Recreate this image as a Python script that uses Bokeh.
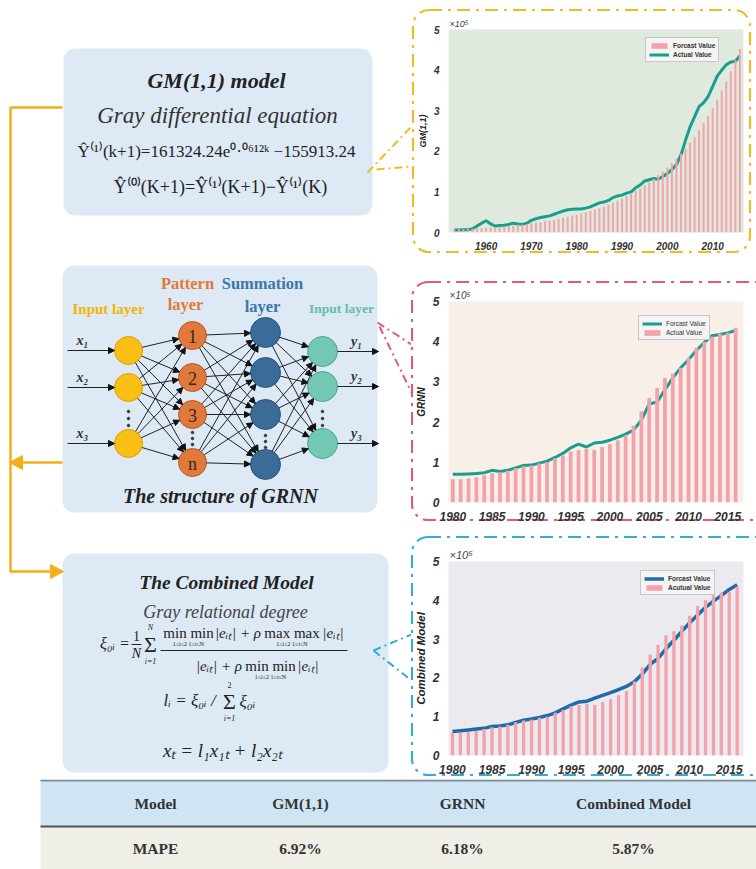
import numpy as np
from urllib.parse import quote
from bokeh.plotting import figure
from bokeh.layouts import column, row
from bokeh.models import (Range1d, Spacer, Legend, LegendItem, Arrow, NormalHead,
                          FixedTicker, ColumnDataSource)
from bokeh.core.properties import value
from bokeh.embed import file_html
from bokeh.resources import INLINE

# ---------------- data (values in units of 1e5) ----------------
years_gm = list(range(1953, 2017))
gm_forecast = [0.07, 0.08, 0.08, 0.09, 0.10, 0.10, 0.11, 0.12, 0.13, 0.13,
               0.14, 0.15, 0.16, 0.18, 0.19, 0.20, 0.21, 0.23, 0.24, 0.26,
               0.28, 0.29, 0.31, 0.34, 0.36, 0.38, 0.41, 0.44, 0.47, 0.50,
               0.53, 0.57, 0.60, 0.64, 0.69, 0.73, 0.78, 0.84, 0.89, 0.95,
               1.02, 1.08, 1.16, 1.23, 1.32, 1.41, 1.50, 1.60, 1.71, 1.82,
               1.94, 2.07, 2.21, 2.36, 2.52, 2.69, 2.87, 3.06, 3.27, 3.49,
               3.72, 3.97, 4.24, 4.52]
actual_all = [0.06, 0.06, 0.07, 0.07, 0.09, 0.16, 0.23, 0.29, 0.21, 0.16,
              0.17, 0.18, 0.20, 0.23, 0.21, 0.20, 0.23, 0.30, 0.34, 0.37,
              0.39, 0.41, 0.45, 0.49, 0.53, 0.56, 0.57, 0.58, 0.58, 0.60,
              0.63, 0.68, 0.73, 0.75, 0.79, 0.86, 0.90, 0.92, 0.97, 1.00,
              1.10, 1.17, 1.27, 1.30, 1.33, 1.31, 1.38, 1.45, 1.55, 1.67,
              1.91, 2.27, 2.60, 2.85, 3.10, 3.20, 3.35, 3.60, 3.85, 4.00,
              4.13, 4.20, 4.22, 4.35]
years_80 = list(range(1980, 2017))
actual_80 = actual_all[years_gm.index(1980):]
grnn_forecast = [0.70, 0.70, 0.71, 0.72, 0.74, 0.80, 0.77, 0.80, 0.86, 0.92,
                 0.93, 0.98, 1.03, 1.12, 1.22, 1.36, 1.45, 1.38, 1.48, 1.50,
                 1.55, 1.62, 1.70, 1.80, 2.05, 2.45, 2.50, 2.80, 3.10, 3.35,
                 3.55, 3.78, 3.98, 4.15, 4.18, 4.22, 4.28]
combined_forecast = [0.62, 0.64, 0.66, 0.68, 0.70, 0.75, 0.76, 0.79, 0.85, 0.91,
                     0.94, 0.98, 1.03, 1.10, 1.20, 1.30, 1.38, 1.40, 1.48, 1.55,
                     1.62, 1.70, 1.78, 1.90, 2.10, 2.35, 2.50, 2.75, 2.97, 3.20,
                     3.42, 3.62, 3.82, 3.98, 4.12, 4.28, 4.40]
gm_xticks = [1960, 1970, 1980, 1990, 2000, 2010]
xticks_80 = [1980, 1985, 1990, 1995, 2000, 2005, 2010, 2015]
yticks = [0, 1, 2, 3, 4, 5]
table_header = ["Model", "GM(1,1)", "GRNN", "Combined Model"]
table_mape = ["MAPE", "6.92%", "6.18%", "5.87%"]

PINK = "#f3a2ab"
TEAL = "#16a08c"
BLUE = "#1f6aa8"
YEL = "#f0bb26"
MAG = "#e05a80"
CYA = "#35acd6"
ORANGE = "#f5ae18"
SERIF = "Liberation Serif"
SANS = "Liberation Sans"

W = 756
LW = 411
RW = W - LW
TOPH = 779
H = 869


def txt(p, x, y, s, size, color="#222", style="normal", font=SERIF, align="center"):
    p.text(x=[x], y=[y], text=[s], text_font=value(font), text_font_size=f"{size}px",
           text_font_style=style, text_color=color, text_align=align,
           text_baseline="middle")


def rrect(x0, y0, x1, y1, r, n=10):
    xs, ys = [], []
    for cx, cy, a0 in [(x0 + r, y0 + r, 180), (x1 - r, y0 + r, 270),
                       (x1 - r, y1 - r, 0), (x0 + r, y1 - r, 90)]:
        for t in np.linspace(a0, a0 + 90, n):
            xs.append(cx + r * np.cos(np.radians(t)))
            ys.append(cy + r * np.sin(np.radians(t)))
    return xs, ys


# ---------------- left panel ----------------
left = figure(width=LW, height=TOPH, x_range=Range1d(0, LW), y_range=Range1d(TOPH, 0),
              output_backend="svg", toolbar_location=None, min_border=0,
              x_axis_type=None, y_axis_type=None, outline_line_color=None,
              background_fill_color="white", border_fill_color="white")

for (x0, y0, x1, y1) in [(63, 48, 372, 215), (62, 265, 377, 512), (62, 553, 388, 772)]:
    bx, by = rrect(x0, y0, x1, y1, 12)
    left.patch(bx, by, fill_color="#dde9f5", line_color=None)

# orange flow arrows
left.line(x=[62, 10, 10, 52], y=[107, 107, 571, 571], line_width=2.5, color=ORANGE)
left.line(x=[62, 18], y=[462, 462], line_width=2.5, color=ORANGE)
left.patches(xs=[[63, 50, 50], [9, 22, 22]], ys=[[571, 564, 578], [462, 455, 469]],
             fill_color=ORANGE, line_color=ORANGE)

# connectors to charts
left.multi_line(xs=[[367, LW], [376, LW]], ys=[[172, 126], [169, 166]],
                line_color=YEL, line_width=2, line_dash="8 4 2 4")
left.multi_line(xs=[[377, LW], [379, LW]], ys=[[322, 344], [326, 392]],
                line_color=MAG, line_width=2, line_dash="8 4 2 4")
left.multi_line(xs=[[373, LW], [373, LW]], ys=[[650, 634], [650, 680]],
                line_color=CYA, line_width=2, line_dash="8 4 2 4")

# box 1 : GM(1,1)
txt(left, 216, 80, "GM(1,1) model", 22, style="bold italic")
txt(left, 217, 115, "Gray differential equation", 23, color="#333", style="italic")
txt(left, 216, 151, "Ŷ⁽¹⁾(k+1)=161324.24e⁰·⁰⁶¹²ᵏ −155913.24", 17)
txt(left, 220, 186, "Ŷ⁽⁰⁾(K+1)=Ŷ⁽¹⁾(K+1)−Ŷ⁽¹⁾(K)", 18)

# box 2 : GRNN
txt(left, 108, 308, "Input layer", 15, color="#f2b600", style="bold")
txt(left, 187, 283, "Pattern", 16.5, color="#e07a35", style="bold")
txt(left, 185, 304, "layer", 16.5, color="#e07a35", style="bold")
txt(left, 262, 283, "Summation", 16.5, color="#3e77aa", style="bold")
txt(left, 262, 306, "layer", 16.5, color="#3e77aa", style="bold")
txt(left, 341, 308, "Input layer", 13.5, color="#62bfa6", style="bold")

inp_x, inp_y, inp_r = 128, [350, 387, 443], 14
pat_x, pat_y, pat_r = 192, [335, 377, 414, 462], 14
sum_x, sum_y, sum_r = 265, [332, 372, 414, 464], 15
out_x, out_y, out_r = 322, [351, 386, 443], 15

xs0, ys0, xs1, ys1 = [], [], [], []


def connect(ax, ays, ar, bx, bys, br):
    for ya in ays:
        for yb in bys:
            dx, dy = bx - ax, yb - ya
            d = np.hypot(dx, dy)
            ux, uy = dx / d, dy / d
            xs0.append(ax + ux * ar); ys0.append(ya + uy * ar)
            xs1.append(bx - ux * br); ys1.append(yb - uy * br)


connect(inp_x, inp_y, inp_r, pat_x, pat_y, pat_r)
connect(pat_x, pat_y, pat_r, sum_x, sum_y, sum_r)
connect(sum_x, sum_y, sum_r, out_x, out_y, out_r)
for y in inp_y:
    xs0.append(67); ys0.append(y); xs1.append(inp_x - inp_r); ys1.append(y)
for y in out_y:
    xs0.append(out_x + out_r); ys0.append(y); xs1.append(378); ys1.append(y)

left.add_layout(Arrow(end=NormalHead(size=6, fill_color="#111", line_color="#111"),
                      source=ColumnDataSource(dict(x0=xs0, y0=ys0, x1=xs1, y1=ys1)),
                      x_start="x0", y_start="y0", x_end="x1", y_end="y1",
                      line_width=1, line_color="#222"))

left.circle(x=[inp_x] * 3, y=inp_y, radius=inp_r, fill_color="#f9bf14", line_color="#dba200")
left.circle(x=[pat_x] * 4, y=pat_y, radius=pat_r, fill_color="#e0793c", line_color="#b85a25")
left.circle(x=[sum_x] * 4, y=sum_y, radius=sum_r, fill_color="#3b6c98", line_color="#2b5580")
left.circle(x=[out_x] * 3, y=out_y, radius=out_r, fill_color="#72c8b2", line_color="#4aa690")
for lab, y in zip(["1", "2", "3", "n"], pat_y):
    txt(left, pat_x, y + 1, lab, 18, color="#3a2418")
left.scatter(x=[inp_x] * 3 + [pat_x] * 3 + [sum_x] * 3 + [out_x] * 3,
             y=[411, 418, 425, 432, 438, 444, 435, 441, 447, 411, 418, 425],
             size=2.5, color="#334")
for lab, y in zip(["x₁", "x₂", "x₃"], inp_y):
    txt(left, 82, y - 10, lab, 14, style="bold italic", color="#333")
for lab, y in zip(["y₁", "y₂", "y₃"], out_y):
    txt(left, 356, y - 10, lab, 14, style="bold italic", color="#333")
txt(left, 220, 495, "The structure of GRNN", 20, style="bold italic")

# box 3 : combined model
txt(left, 226, 582, "The Combined Model", 19.5, style="bold italic")
txt(left, 225, 611, "Gray relational degree", 18, color="#444", style="italic")
txt(left, 107, 643, "ξ₀ᵢ", 16, style="italic")
txt(left, 124, 643, "=", 16)
txt(left, 136, 635, "1", 14)
left.segment(x0=[131], y0=[644], x1=[141], y1=[644], line_color="#222", line_width=1)
txt(left, 136, 653, "N", 14, style="italic")
txt(left, 150, 644, "Σ", 22)
txt(left, 150, 627, "N", 8, style="italic")
txt(left, 150, 661, "i=1", 8, style="italic")
txt(left, 188, 632, "min min", 15)
txt(left, 237.5, 632, "|eᵢₜ| + ρ", 15, style="italic")
txt(left, 291.5, 632, "max max", 15)
txt(left, 332.5, 632, "|eᵢₜ|", 15, style="italic")
txt(left, 188, 643, "1≤i≤2 1≤t≤N", 6)
txt(left, 291.5, 643, "1≤i≤2 1≤t≤N", 6)
left.segment(x0=[160], y0=[650], x1=[347], y1=[650], line_color="#222", line_width=1)
txt(left, 218.5, 665, "|eᵢₜ| + ρ", 15, style="italic")
txt(left, 270, 665, "min min", 15)
txt(left, 307.5, 665, "|eᵢₜ|", 15, style="italic")
txt(left, 270, 676, "1≤i≤2 1≤t≤N", 6)
txt(left, 163, 700, "lᵢ = ξ₀ᵢ /", 17, style="italic", align="left")
txt(left, 229, 701, "Σ", 22)
txt(left, 229, 684, "2", 8)
txt(left, 229, 718, "i=1", 8, style="italic")
txt(left, 239, 701, "ξ₀ᵢ", 17, style="italic", align="left")
txt(left, 222, 750, "xₜ = l₁x₁ₜ + l₂x₂ₜ", 19, style="italic")


# ---------------- charts ----------------
def frame_bg(w, h, rx, ry, rw, rh, color):
    svg = (f"<svg xmlns='http://www.w3.org/2000/svg' width='{w}' height='{h}'>"
           f"<rect x='{rx}' y='{ry}' width='{rw}' height='{rh}' rx='16' ry='16' fill='none' "
           f"stroke='{color}' stroke-width='2.2' stroke-dasharray='13 6 3 6'/></svg>")
    url = 'url("data:image/svg+xml,' + quote(svg) + '")'
    return url


def make_chart(w, h, mb, xr, bg, ylabel, ylab_size, xticks, tick_size, frame):
    url = frame_bg(w, h, *frame)
    p = figure(width=w, height=h, x_range=Range1d(*xr), y_range=Range1d(0, 5),
               output_backend="svg", toolbar_location=None,
               min_border_left=mb[0], min_border_right=mb[1],
               min_border_top=mb[2], min_border_bottom=mb[3],
               background_fill_color=bg, border_fill_color="white", border_fill_alpha=0.0,
               outline_line_color=None, title="×10⁵",
               styles={"background-image": url, "background-repeat": "no-repeat"},
               stylesheets=[":host { background-image: " + url + "; background-repeat: no-repeat; }"])
    p.title.text_font = SANS
    p.title.text_font_size = "9px"
    p.title.text_font_style = "italic"
    p.title.text_color = "#444"
    p.title.standoff = 1
    p.title.align = "left"
    p.title.offset = 1
    p.xgrid.visible = False
    p.ygrid.visible = False
    p.xaxis.ticker = FixedTicker(ticks=xticks)
    p.yaxis.ticker = FixedTicker(ticks=yticks)
    for ax in (p.xaxis[0], p.yaxis[0]):
        ax.axis_line_color = None
        ax.major_tick_line_color = None
        ax.minor_tick_line_color = None
        ax.major_label_text_font = SANS
        ax.major_label_text_font_style = "bold italic"
        ax.major_label_text_font_size = f"{tick_size}px"
        ax.major_label_text_color = "#333"
        ax.major_label_standoff = 3
    p.yaxis.axis_label = ylabel
    p.yaxis.axis_label_text_font = SANS
    p.yaxis.axis_label_text_font_style = "bold italic"
    p.yaxis.axis_label_text_font_size = f"{ylab_size}px"
    p.yaxis.axis_label_text_color = "#222"
    p.yaxis.axis_label_standoff = 3
    return p


def style_legend(p, items, loc, bold=False):
    lg = Legend(items=items, location=loc)
    lg.label_text_font = SANS
    lg.label_text_font_size = "6.5px"
    lg.label_text_font_style = "bold" if bold else "normal"
    lg.label_text_color = "#333"
    lg.glyph_width = 20
    lg.glyph_height = 7
    lg.label_height = 8
    lg.spacing = 1
    lg.padding = 3
    lg.margin = 0
    lg.label_standoff = 4
    lg.border_line_color = "#9a9a9a"
    lg.background_fill_color = "#f4f4f2"
    lg.background_fill_alpha = 1
    p.add_layout(lg)


c1 = make_chart(RW, 248, (31, 13, 21, 24), (1951.7, 2016.8), "#dfe9dd", "GM(1,1)", 9,
                gm_xticks, 10, (2, 2, 337, 242, YEL))
l1 = c1.line(years_gm, actual_all, line_width=3, color=TEAL)
b1 = c1.vbar(x=years_gm, top=gm_forecast, width=0.42, fill_color=PINK, line_color=None)
style_legend(c1, [LegendItem(label="Forcast Value", renderers=[b1]),
                  LegendItem(label="Actual Value", renderers=[l1])], (197, 170), bold=True)

c2 = make_chart(RW, 246, (36, 3, 23, 22), (1979.45, 2017.0), "#f8efe8", "GRNN", 10,
                xticks_80, 12, (1, 4, 370, 238, MAG))
c2.title.text_font_size = "10px"
l2 = c2.line(years_80, grnn_forecast, line_width=3, color=TEAL)
b2 = c2.vbar(x=years_80, top=actual_80, width=0.48, fill_color=PINK, line_color=None)
style_legend(c2, [LegendItem(label="Forcast Value", renderers=[l2]),
                  LegendItem(label="Actual Value", renderers=[b2])], (190, 162))

c3 = make_chart(RW, 246, (37, 3, 28, 24), (1979.5, 2016.8), "#ebebef", "Combined Model", 11.5,
                xticks_80, 12, (1, 4, 370, 238, CYA))
c3.title.text_font_size = "11px"
l3 = c3.line(years_80, combined_forecast, line_width=3.5, color=BLUE)
b3 = c3.vbar(x=years_80, top=actual_80, width=0.42, fill_color=PINK, line_color=None)
style_legend(c3, [LegendItem(label="Forcast Value", renderers=[l3]),
                  LegendItem(label="Acutual Value", renderers=[b3])], (192, 160), bold=True)

right = column(Spacer(width=RW, height=8), c1, Spacer(width=RW, height=22), c2,
               Spacer(width=RW, height=9), c3)

# ---------------- table ----------------
tab = figure(width=W, height=H - TOPH, x_range=Range1d(0, W),
             y_range=Range1d(H, TOPH), output_backend="svg", toolbar_location=None,
             min_border=0, x_axis_type=None, y_axis_type=None, outline_line_color=None,
             background_fill_color="white", border_fill_color="white")
tab.quad(left=[40, 40], right=[W, W], top=[779, 826], bottom=[826, 869],
         fill_color=["#d0e5f3", "#efeee7"], line_color=None)
tab.segment(x0=[40, 40], y0=[780, 826], x1=[W, W], y1=[780, 826],
            line_color=["#7f8c99", "#555555"], line_width=[2, 2])
col_x = [155, 300, 462, 633]
for cx, h, m in zip(col_x, table_header, table_mape):
    txt(tab, cx, 803, h, 15.5, color="#333", style="bold")
    txt(tab, cx, 848, m, 15.5, color="#333", style="bold")

page = column(row(left, right), tab)
open("out.html", "w").write(file_html(page, INLINE))
